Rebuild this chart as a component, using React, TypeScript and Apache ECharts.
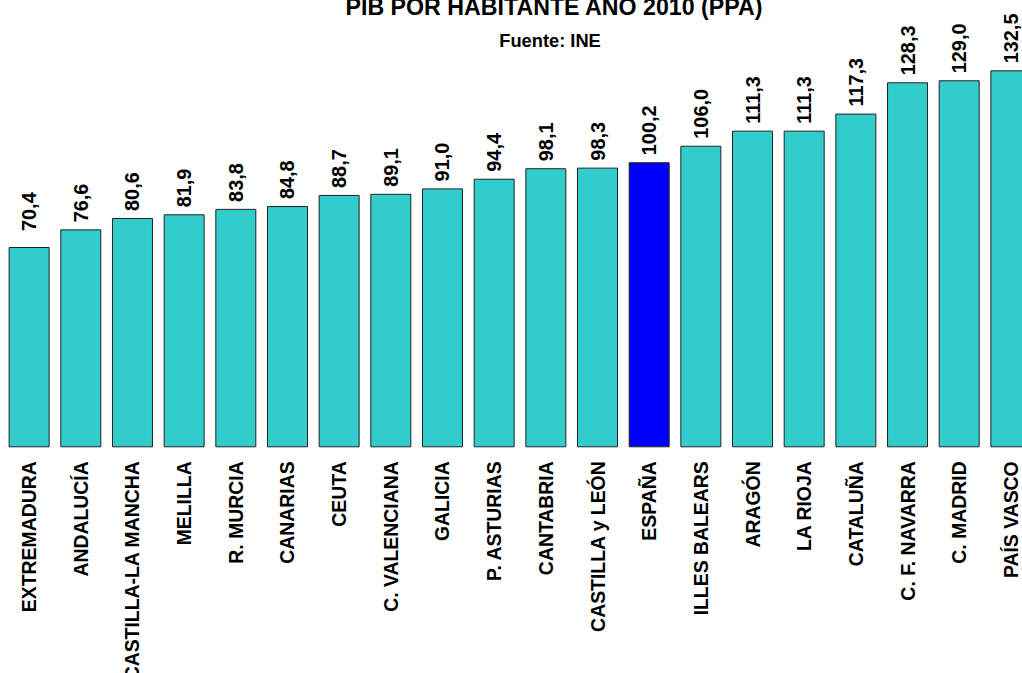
import React, { useEffect, useRef } from "react";
import * as echarts from "echarts";

const categories: string[] = [
  "EXTREMADURA", "ANDALUCÍA", "CASTILLA-LA MANCHA", "MELILLA", "R. MURCIA",
  "CANARIAS", "CEUTA", "C. VALENCIANA", "GALICIA", "P. ASTURIAS",
  "CANTABRIA", "CASTILLA y LEÓN", "ESPAÑA", "ILLES BALEARS", "ARAGÓN",
  "LA RIOJA", "CATALUÑA", "C. F. NAVARRA", "C. MADRID", "PAÍS VASCO",
];
const values: number[] = [
  70.4, 76.6, 80.6, 81.9, 83.8, 84.8, 88.7, 89.1, 91.0, 94.4,
  98.1, 98.3, 100.2, 106.0, 111.3, 111.3, 117.3, 128.3, 129.0, 132.5,
];
const highlightCategory = "ESPAÑA";
const titleText = "PIB POR HABITANTE AÑO 2010 (PPA)";
const subtitleText = "Fuente: INE";

const FONT = "'Liberation Sans', Arial, Helvetica, sans-serif";
const BAR_COLOR = "#33cccc";
const HIGHLIGHT_COLOR = "#0000ff";

export default function App() {
  const ref = useRef<HTMLDivElement>(null);
  useEffect(() => {
    if (!ref.current) return;
    const chart = echarts.init(ref.current, null, { renderer: "svg" });
    const data = values.map((v, i) => {
      const item: any = {
        value: v,
        itemStyle: {
          color: categories[i] === highlightCategory ? HIGHLIGHT_COLOR : BAR_COLOR,
        },
      };
      if (i === 0) item.label = { distance: 16 };
      return item;
    });
    chart.setOption({
      animation: false,
      backgroundColor: "#ffffff",
      graphic: [
        {
          type: "text",
          x: 554,
          y: 7,
          style: {
            text: titleText,
            font: `bold 23.2px ${FONT}`,
            fill: "#000",
            textAlign: "center",
            textVerticalAlign: "middle",
          },
        },
        {
          type: "text",
          x: 550,
          y: 40,
          style: {
            text: subtitleText,
            font: `bold 18.3px ${FONT}`,
            fill: "#000",
            textAlign: "center",
            textVerticalAlign: "middle",
          },
        },
      ],
      grid: {
        left: 3.3,
        top: 20.55,
        width: 1033.4,
        height: 426.75,
        containLabel: false,
        outerBoundsMode: "none",
      },
      xAxis: {
        type: "category",
        data: categories,
        axisLine: { show: false },
        axisTick: { show: false },
        axisLabel: {
          interval: 0,
          rotate: 90,
          margin: 14,
          fontSize: 19.4,
          fontWeight: "bold",
          fontFamily: FONT,
          color: "#000",
        },
      },
      yAxis: {
        type: "value",
        min: 0,
        max: 150,
        show: false,
        splitLine: { show: false },
      },
      series: [
        {
          type: "bar",
          data,
          barWidth: 41,
          itemStyle: { borderColor: "#222", borderWidth: 1 },
          label: {
            show: true,
            position: "top",
            rotate: 90,
            align: "left",
            verticalAlign: "middle",
            distance: 7,
            fontSize: 19.9,
            fontWeight: "bold",
            fontFamily: FONT,
            color: "#000",
            formatter: (p: any) => Number(p.value).toFixed(1).replace(".", ","),
          },
        },
      ],
    });
    return () => chart.dispose();
  }, []);
  return (
    <div
      ref={ref}
      style={{ position: "fixed", left: 0, top: 0, width: 1022, height: 673, overflow: "hidden" }}
    />
  );
}
